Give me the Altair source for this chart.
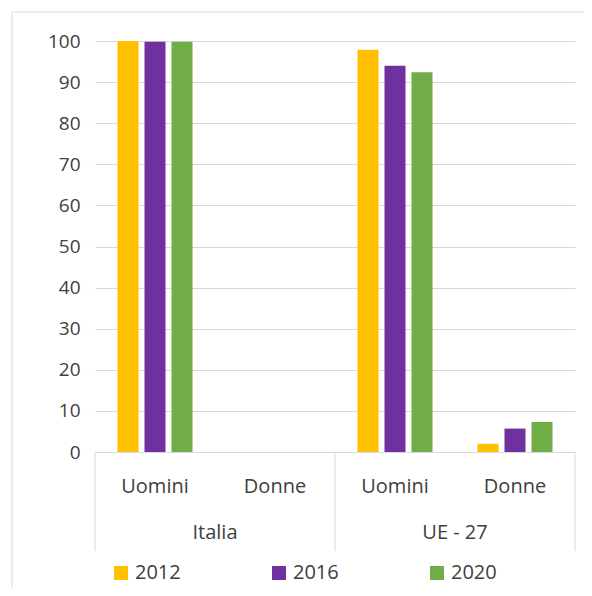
import altair as alt
import pandas as pd

# ---- data ----
paesi = ["Italia", "UE - 27"]
sessi = ["Uomini", "Donne"]
anni = ["2012", "2016", "2020"]
colori = ["#FFC000", "#7030A0", "#70AD47"]
valori_2012 = [100.0, 0.0, 97.9, 2.0]
valori_2016 = [99.8, 0.0, 94.0, 5.7]
valori_2020 = [99.8, 0.0, 92.4, 7.3]
tick_y = list(range(0, 101, 10))

serie = {"2012": valori_2012, "2016": valori_2016, "2020": valori_2020}
categorie = [f"{p}|{s}" for p in paesi for s in sessi]

rows = []
for anno in anni:
    for i, cat in enumerate(categorie):
        p, s = cat.split("|")
        rows.append({"cat": cat, "paese": p, "sesso": s, "anno": anno,
                     "valore": serie[anno][i]})
df = pd.DataFrame(rows)

df_sub = pd.DataFrame({"cat": categorie, "sesso": [c.split("|")[1] for c in categorie]})
df_paesi = pd.DataFrame({"paese": paesi,
                         "pos": [2 * i + 1 for i in range(len(paesi))]})
df_bordi = pd.DataFrame({"pos": [2 * i for i in range(len(paesi) + 1)]})

FONT = "Open Sans"
TXT = "#404040"
GRID = "#d9d9d9"

x_band = alt.Scale(domain=categorie, paddingInner=0.375, paddingOuter=0.1875)
x_lin = alt.Scale(domain=[0, 2 * len(paesi)], nice=False, zero=False)

# chart-area border (left and top edges, as visible in the reference)
frame_left = alt.Chart(alt.Data(values=[{}])).mark_rule(color=GRID, strokeWidth=1).encode(
    x=alt.value(-83), y=alt.value(-29), y2=alt.value(560)
)
frame_top = alt.Chart(alt.Data(values=[{}])).mark_rule(color=GRID, strokeWidth=1).encode(
    x=alt.value(-83), x2=alt.value(489), y=alt.value(-29)
)

bars = alt.Chart(df).mark_bar().encode(
    x=alt.X("cat:N", scale=x_band, axis=None),
    xOffset=alt.XOffset("anno:N", scale=alt.Scale(domain=anni, paddingInner=0.222,
                                                   paddingOuter=0)),
    y=alt.Y("valore:Q", scale=alt.Scale(domain=[0, 100], nice=False),
            axis=alt.Axis(values=tick_y, title=None, grid=True, gridColor=GRID,
                          gridWidth=1, domain=False, ticks=False, labelFont=FONT,
                          labelFontSize=19, labelColor=TXT, labelPadding=15)),
    color=alt.Color("anno:N", scale=alt.Scale(domain=anni, range=colori),
                    legend=alt.Legend(title=None, orient="none", legendX=16,
                                      legendY=522, direction="horizontal",
                                      symbolType="square", symbolSize=196,
                                      symbolStrokeWidth=0, labelFont=FONT,
                                      labelFontSize=20, labelColor=TXT,
                                      labelOffset=4, columnPadding=88)),
)

sub = alt.Chart(df_sub).mark_text(
    font=FONT, fontSize=20, color=TXT, baseline="middle"
).encode(
    x=alt.X("cat:N", scale=x_band, axis=None),
    y=alt.value(446),
    text="sesso:N",
)

rules = alt.Chart(df_bordi).mark_rule(color=GRID, strokeWidth=1).encode(
    x=alt.X("pos:Q", scale=x_lin, axis=None),
    y=alt.value(411),
    y2=alt.value(510),
)

outer = alt.Chart(df_paesi).mark_text(
    font=FONT, fontSize=20, color=TXT, baseline="middle"
).encode(
    x=alt.X("pos:Q", scale=x_lin, axis=None),
    y=alt.value(492),
    text="paese:N",
)

chart = alt.layer(frame_left, frame_top, bars, sub, rules, outer).resolve_scale(
    x="independent"
).properties(
    width=480, height=411, autosize="none",
    padding={"left": 87, "top": 33, "right": 9, "bottom": 136},
    background="white",
).configure_view(stroke=None)

chart.save("out.html", embed_options={"renderer": "svg", "actions": False})
